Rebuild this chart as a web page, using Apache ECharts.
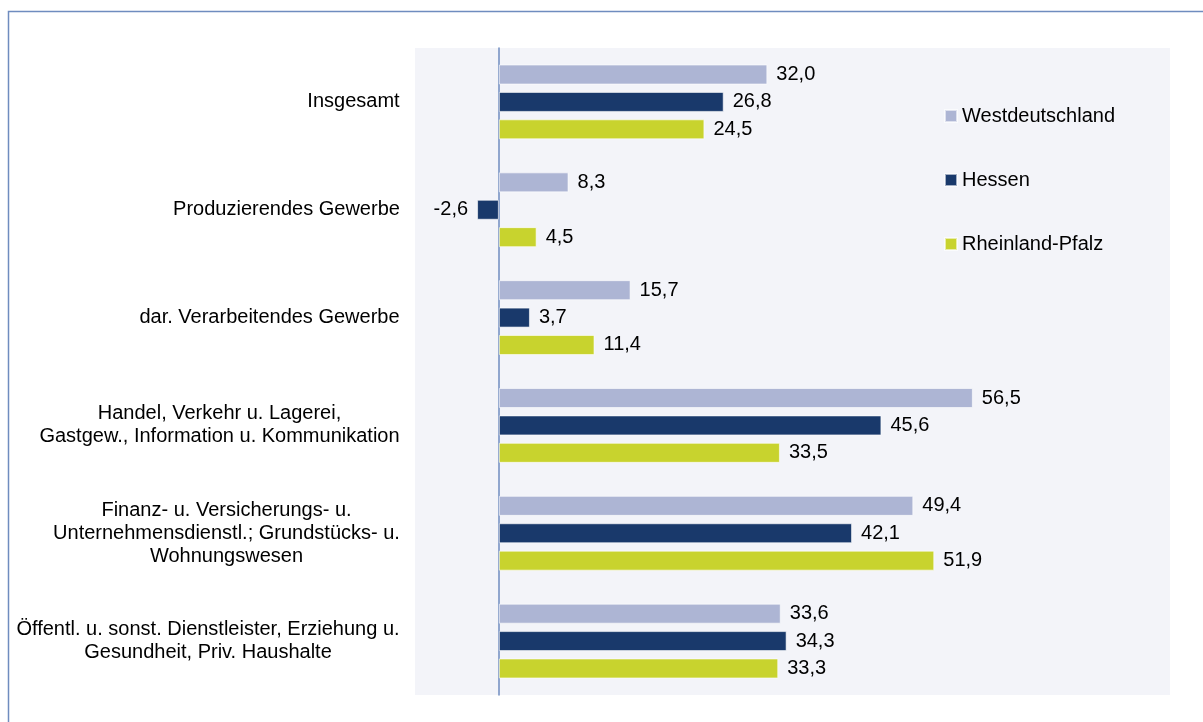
<!DOCTYPE html>
<html>
<head>
<meta charset="utf-8">
<script src="https://cdn.jsdelivr.net/npm/echarts@6/dist/echarts.min.js"></script>
<style>
  html, body { margin: 0; padding: 0; background: #fff; }
  #chart { width: 1203px; height: 722px; }
</style>
</head>
<body>
<div id="chart"></div>
<script>
// categories (top to bottom), lines separated by \n
const categories = [
  "Insgesamt",
  "Produzierendes Gewerbe",
  "dar. Verarbeitendes Gewerbe",
  "Handel, Verkehr u. Lagerei,\nGastgew., Information u. Kommunikation",
  "Finanz- u. Versicherungs- u.\nUnternehmensdienstl.; Grundstücks- u.\nWohnungswesen",
  "Öffentl. u. sonst. Dienstleister, Erziehung u.\nGesundheit, Priv. Haushalte"
];
const westdeutschland = [32.0, 8.3, 15.7, 56.5, 49.4, 33.6];
const hessen = [26.8, -2.6, 3.7, 45.6, 42.1, 34.3];
const rheinlandPfalz = [24.5, 4.5, 11.4, 33.5, 51.9, 33.3];
const seriesNames = ["Westdeutschland", "Hessen", "Rheinland-Pfalz"];

const FAMILY = "'Liberation Sans', Arial, sans-serif";
const FS = 20;
const colors = ["#adb5d4", "#19396b", "#c8d32e"];

// measure widest line of each label so lines can be centered in a right-aligned block
const ctx = document.createElement("canvas").getContext("2d");
ctx.font = FS + "px " + FAMILY;
const rich = {};
categories.forEach((c, i) => {
  const w = Math.max(...c.split("\n").map(l => ctx.measureText(l).width));
  rich["l" + i] = { width: Math.ceil(w), align: "center", fontSize: FS, lineHeight: 23,
    color: "#000", fontFamily: FAMILY };
});

const fmt = v => v.toFixed(1).replace(".", ",");

function makeSeries(name, values, color) {
  return {
    name: name,
    type: "bar",
    barWidth: 20,
    barGap: "37%",
    itemStyle: { color: color, borderColor: "rgba(255,255,255,0.6)", borderWidth: 1 },
    data: values.map(v => ({
      value: v,
      label: { position: v < 0 ? "left" : "right" }
    })),
    label: {
      show: true,
      distance: 9,
      fontSize: FS,
      color: "#000",
      fontFamily: FAMILY,
      formatter: p => fmt(p.value)
    },
    emphasis: { disabled: true }
  };
}

var myChart = echarts.init(document.getElementById("chart"));
let option = {
  animation: false,
  backgroundColor: "#fff",
  textStyle: { fontFamily: FAMILY },
  graphic: [{
    type: "rect",
    shape: { x: 8.5, y: 11.5, width: 1300, height: 800 },
    style: { fill: "none", stroke: "#6f8cbf", lineWidth: 1.5 },
    silent: true
  }],
  grid: {
    left: 415, right: 33, top: 48, bottom: 27,
    show: true, backgroundColor: "#f3f4f9", borderWidth: 0
  },
  legend: {
    orient: "vertical",
    left: 939, top: 101,
    itemWidth: 12, itemHeight: 12,
    itemGap: 44,
    icon: "rect",
    textStyle: { fontSize: FS, color: "#000" },
    data: seriesNames
  },
  xAxis: {
    type: "value",
    min: -10, max: 80,
    axisLabel: { show: false },
    axisTick: { show: false },
    axisLine: { show: false },
    splitLine: { show: false }
  },
  yAxis: {
    type: "category",
    inverse: true,
    data: categories,
    axisTick: { show: false },
    axisLine: { show: true, onZero: true, lineStyle: { color: "#6f8cbf", width: 1.5 } },
    axisLabel: {
      margin: 15,
      formatter: (v, i) => v.split("\n").map(l => "{l" + i + "|" + l + "}").join("\n"),
      rich: rich
    }
  },
  series: [
    makeSeries(seriesNames[0], westdeutschland, colors[0]),
    makeSeries(seriesNames[1], hessen, colors[1]),
    makeSeries(seriesNames[2], rheinlandPfalz, colors[2])
  ]
};
option && myChart.setOption(option);
</script>
</body>
</html>
